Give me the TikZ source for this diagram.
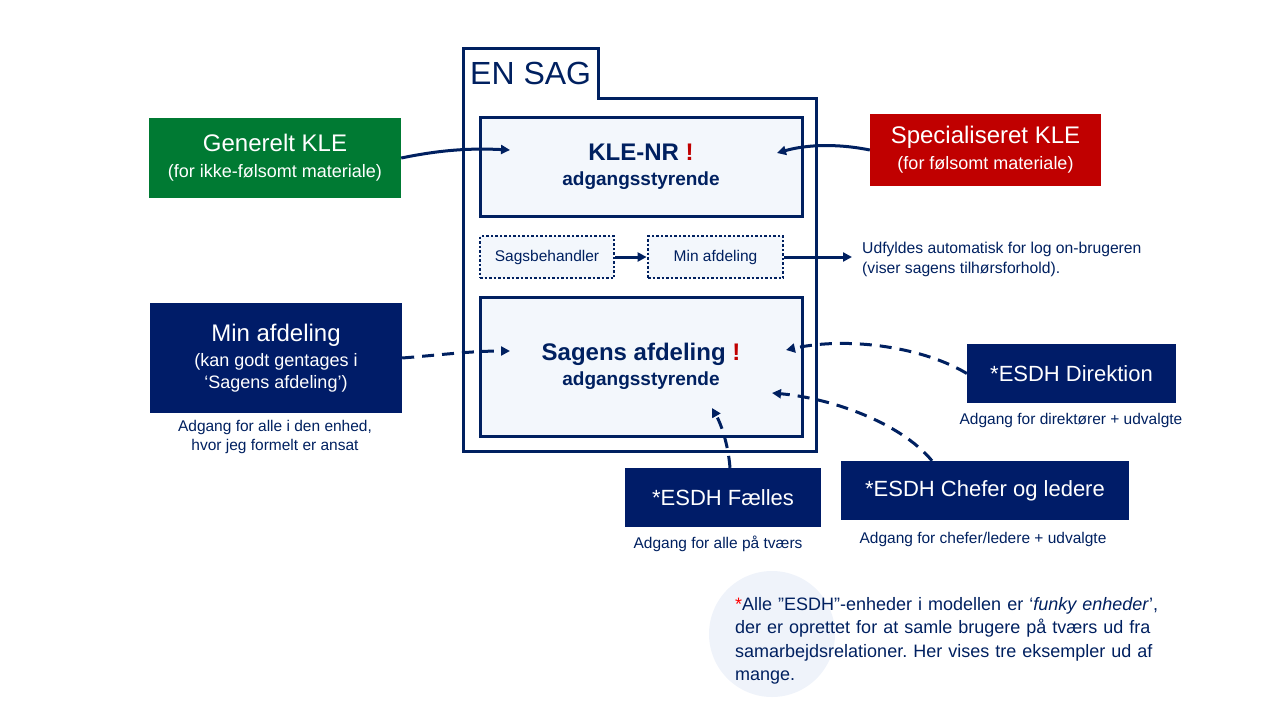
\documentclass[tikz,border=0pt]{standalone}
\usepackage{fontspec}
\setmainfont{Liberation Sans}
\usetikzlibrary{arrows.meta}

\definecolor{navy}{RGB}{0,32,96}
\definecolor{boxnavy}{RGB}{0,28,104}
\definecolor{paleblue}{RGB}{243,247,252}
\definecolor{klegreen}{RGB}{0,122,51}
\definecolor{klered}{RGB}{192,0,0}
\definecolor{ringblue}{RGB}{239,243,250}

\newcommand{\bigtxt}{\fontsize{24}{26}\selectfont}
\newcommand{\subtxt}{\fontsize{18}{22}\selectfont}

\tikzset{
  fieldbox/.style={draw=navy,line width=3pt,fill=paleblue,text=navy,font=\bfseries\fontsize{19}{26}\selectfont,align=center,inner sep=0pt},
  autobox/.style={draw=navy,line width=2.8pt,dash pattern=on 2.5pt off 2pt,fill=paleblue,text=navy,inner sep=0pt,font=\fontsize{15.5}{18}\selectfont},
  unitbox/.style={fill=boxnavy,text=white,align=center,inner sep=0pt,font=\fontsize{22}{26}\selectfont},
  sourcebox/.style={text=white,align=center,inner sep=0pt,font=\fontsize{18}{26}\selectfont},
  accessnote/.style={text=navy,align=center,inner sep=0pt,font=\fontsize{15.5}{19}\selectfont},
  link/.style={navy,line width=3pt,-{Triangle[length=9pt,width=9pt]}},
  duallink/.style={link,dash pattern=on 12pt off 8pt},
}

\begin{document}
\frenchspacing
\begin{tikzpicture}[x=1pt,y=-1pt]
\useasboundingbox (0,0) rectangle (1280,720);

% the case folder
\draw[navy,line width=3pt] (463,48) -- (598,48) -- (598,98) -- (816,98) -- (816,451) -- (463,451) -- cycle;
\node[text=navy,font=\fontsize{32}{36}\selectfont,anchor=west,inner sep=0pt] (ensag) at (470,73) {EN SAG};

% fields of the case
\node[fieldbox,minimum width=322pt,minimum height=99pt] (klenr) at (641,166.5)
  {{\bigtxt KLE-NR \textcolor{klered}{!}}\\[-1pt]adgangsstyrende};
\node[autobox,minimum width=134pt,minimum height=42pt] (sagsb) at (547,257) {Sagsbehandler};
\node[autobox,minimum width=135pt,minimum height=42pt] (minafd) at (715.5,257) {Min afdeling};
\node[fieldbox,minimum width=322pt,minimum height=139pt] (sagafd) at (641,366.5)
  {{\bigtxt Sagens afdeling \textcolor{klered}{!}}\\[-1pt]adgangsstyrende};

\node[text=navy,align=left,anchor=west,inner sep=0pt,font=\fontsize{15.7}{19.5}\selectfont] (udfyld) at (862,259.5)
  {Udfyldes automatisk for log on-brugeren\\(viser sagens tilhørsforhold).};

% KLE sources
\node[sourcebox,fill=klegreen,minimum width=252pt,minimum height=80pt] (genkle) at (275,158)
  {{\bigtxt Generelt KLE}\\(for ikke-følsomt materiale)};
\node[sourcebox,fill=klered,minimum width=231pt,minimum height=72pt] (speckle) at (985.5,150)
  {{\bigtxt Specialiseret KLE}\\(for følsomt materiale)};

% units
\node[unitbox,font=\fontsize{18}{22}\selectfont,minimum width=252pt,minimum height=110pt] (minunit) at (276,358)
  {{\bigtxt Min afdeling}\\[3pt](kan godt gentages i\\‘Sagens afdeling’)};
\node[accessnote] (minnote) at (275,437) {Adgang for alle i den enhed,\\hvor jeg formelt er ansat};

\node[unitbox,minimum width=209pt,minimum height=59pt] (direk) at (1071.5,373.5) {*ESDH Direktion};
\node[accessnote] (direknote) at (1071,420) {Adgang for direktører + udvalgte};

\node[unitbox,minimum width=196pt,minimum height=59pt] (faelles) at (723,497.5) {*ESDH Fælles};
\node[accessnote] (faellesnote) at (718,544) {Adgang for alle på tværs};

\node[unitbox,minimum width=288pt,minimum height=59pt] (chefer) at (985,490.5) {*ESDH Chefer og ledere};
\node[accessnote] (cheferenote) at (983,539) {Adgang for chefer/ledere + udvalgte};

% footnote
\fill[ringblue] (772,634) circle (63);
\node[text=navy,align=left,anchor=north west,inner sep=0pt,text width=450pt,font=\fontsize{18}{23.5}\selectfont] (funky) at (735,597)
  {\textcolor{red}{*}Alle ”ESDH”-enheder i modellen er ‘\textit{funky enheder}’, der er oprettet for at samle brugere på tværs ud fra samarbejdsrelationer. Her vises tre eksempler ud af mange.};

% targets inside the fields
\coordinate (kleleft) at (510,150);
\coordinate (kleright) at (777,153);
\coordinate (afdleft) at (510,351);
\coordinate (afdright) at (786,350);
\coordinate (afdlow) at (772,393);
\coordinate (afdbottom) at (712,408);

\draw[link] (genkle.east) .. controls (440,150) and (470,148) .. (kleleft);
\draw[link] (speckle.west) .. controls (835,143) and (805,145) .. (kleright);
\draw[link] (sagsb.east) -- (minafd.west);
\draw[link,shorten >=10pt] (minafd.east) -- (minafd.east -| udfyld.west);

\draw[duallink] (minunit.east) .. controls (440,355) and (470,351) .. (afdleft);
\draw[duallink] (direk.west) .. controls (925,348) and (850,336) .. (afdright);
\draw[duallink] ([xshift=-53pt]chefer.north) .. controls (900,422) and (830,398) .. (afdlow);
\draw[duallink] ([xshift=7pt]faelles.north) .. controls (728,442) and (720,422) .. (afdbottom);
\end{tikzpicture}
\end{document}
